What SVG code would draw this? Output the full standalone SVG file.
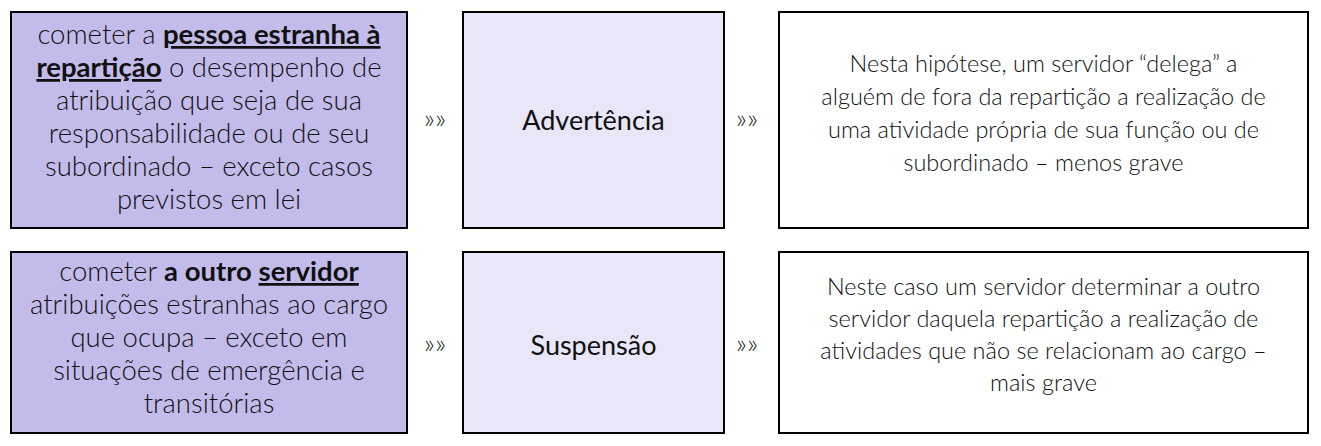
<svg xmlns="http://www.w3.org/2000/svg" width="1321" height="446" viewBox="0 0 1321 446">
<style>
.box{stroke:#000;stroke-width:2}
.dark{fill:#C3BCEB}
.mid{fill:#E8E6F7}
.white{fill:#FFFFFF}
text{font-family:Lato,"Open Sans","Liberation Sans",sans-serif;fill:#111;text-anchor:middle}
.l{font-size:27.5px;font-weight:300}
.r{font-size:23.5px;font-weight:300}
.m{font-size:27px;font-weight:400}
.arr{font-size:28px;font-weight:300;fill:#222}
.b{font-weight:700}
.u{text-decoration:underline}
</style>
<rect width="1321" height="446" fill="#fff"/>
<g id="connectors">
<text class="arr" x="435" y="128">»»</text>
<text class="arr" x="747" y="128">»»</text>
<text class="arr" x="435" y="353">»»</text>
<text class="arr" x="747" y="353">»»</text>
</g>
<g id="cond1">
<rect class="box dark" x="11" y="12" width="396" height="216"/>
<text class="l" x="209" y="44">cometer a <tspan class="b u">pessoa estranha à</tspan></text>
<text class="l" x="209" y="77"><tspan class="b u">repartição</tspan> o desempenho de</text>
<text class="l" x="209" y="110">atribuição que seja de sua</text>
<text class="l" x="209" y="143">responsabilidade ou de seu</text>
<text class="l" x="209" y="176">subordinado – exceto casos</text>
<text class="l" x="209" y="209">previstos em lei</text>
</g>
<g id="pen1">
<rect class="box mid" x="463" y="12" width="261" height="216"/>
<text class="m" x="593.5" y="130">Advertência</text>
</g>
<g id="exp1">
<rect class="box white" x="779" y="12" width="529" height="216"/>
<text class="r" x="1043.5" y="72">Nesta hipótese, um servidor “delega” a</text>
<text class="r" x="1043.5" y="105">alguém de fora da repartição a realização de</text>
<text class="r" x="1043.5" y="138">uma atividade própria de sua função ou de</text>
<text class="r" x="1043.5" y="171">subordinado – menos grave</text>
</g>
<g id="cond2">
<rect class="box dark" x="11" y="252" width="396" height="181"/>
<text class="l" x="209" y="281">cometer <tspan class="b">a outro </tspan><tspan class="b u">servidor</tspan></text>
<text class="l" x="209" y="314">atribuições estranhas ao cargo</text>
<text class="l" x="209" y="347">que ocupa – exceto em</text>
<text class="l" x="209" y="380">situações de emergência e</text>
<text class="l" x="209" y="413">transitórias</text>
</g>
<g id="pen2">
<rect class="box mid" x="463" y="252" width="261" height="181"/>
<text class="m" x="593.5" y="355">Suspensão</text>
</g>
<g id="exp2">
<rect class="box white" x="779" y="252" width="529" height="181"/>
<text class="r" x="1043.5" y="295">Neste caso um servidor determinar a outro</text>
<text class="r" x="1043.5" y="327">servidor daquela repartição a realização de</text>
<text class="r" x="1043.5" y="359">atividades que não se relacionam ao cargo –</text>
<text class="r" x="1043.5" y="391">mais grave</text>
</g>
</svg>
